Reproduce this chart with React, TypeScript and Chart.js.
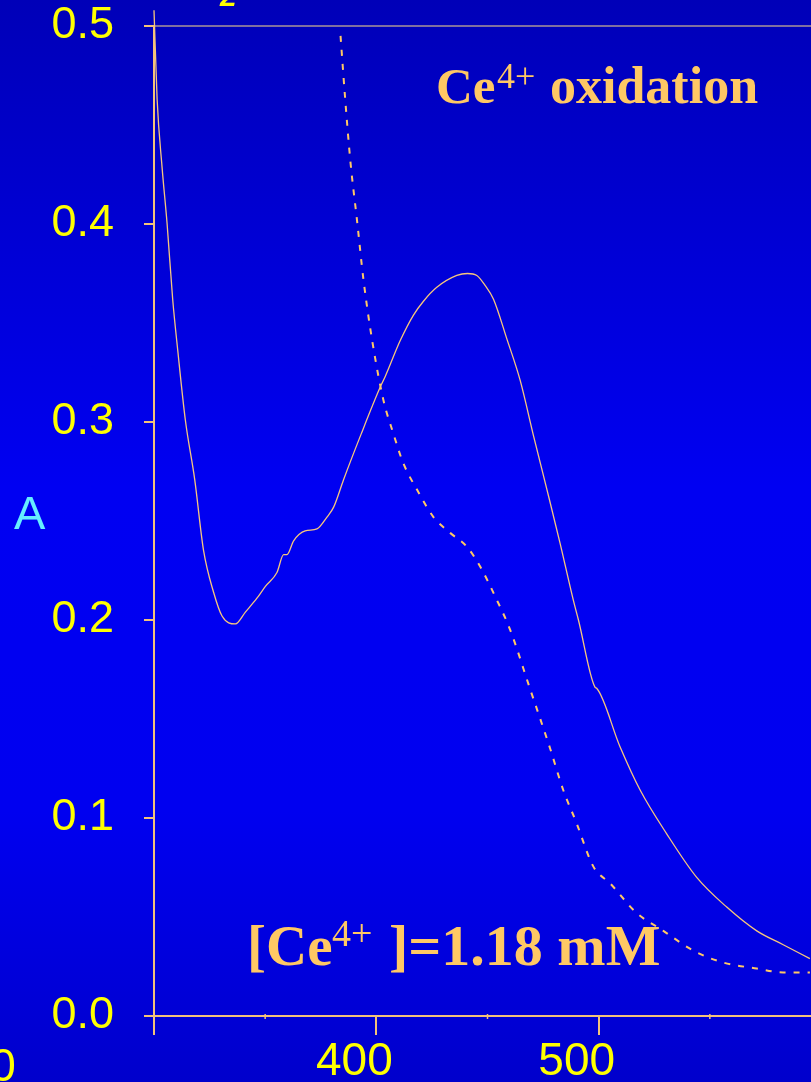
import React, { useEffect, useRef } from 'react';
import { Chart, registerables } from 'chart.js';

Chart.register(...registerables);

// ---- data ----
const solidWl = [300, 301.4, 303.6, 305.9, 308.4, 310.7, 314.1, 318.3, 322.3, 326.8, 330.6, 336.6, 341.1, 346.3, 350.1, 355.3, 358.3, 359.8, 362.8, 368.0, 373.3, 377.8, 380.8, 385.3, 393.2, 401.9, 404.0, 410.7, 416.7, 421.2, 427.2, 436.2, 441.0, 445.2, 448.9, 452.7, 458.7, 464.7, 470.7, 476.7, 482.6, 488.6, 490.9, 498.4, 499.1, 509.6, 518.7, 530.6, 544.1, 557.6, 571.1, 583.0, 595.0];
const solidA = [0.508, 0.463, 0.429, 0.400, 0.362, 0.336, 0.301, 0.271, 0.235, 0.214, 0.202, 0.198, 0.204, 0.211, 0.217, 0.224, 0.233, 0.233, 0.240, 0.245, 0.246, 0.252, 0.257, 0.271, 0.294, 0.318, 0.323, 0.341, 0.354, 0.361, 0.368, 0.374, 0.375, 0.374, 0.369, 0.362, 0.342, 0.321, 0.293, 0.266, 0.239, 0.210, 0.200, 0.166, 0.1655, 0.136, 0.114, 0.092, 0.070, 0.055, 0.043, 0.036, 0.029];

const dashedWl = [383.9, 386.0, 388.3, 391.3, 394.2, 398.3, 403.2, 407.7, 412.2, 418.2, 425.7, 433.2, 440.7, 446.7, 453.4, 460.2, 469.2, 478.2, 484.1, 490.2, 496.1, 498.4, 505.1, 517.1, 529.1, 542.6, 556.0, 571.1, 583.0, 595.0];
const dashedA = [0.495, 0.463, 0.432, 0.402, 0.372, 0.340, 0.311, 0.294, 0.279, 0.266, 0.252, 0.244, 0.237, 0.227, 0.212, 0.195, 0.165, 0.135, 0.114, 0.097, 0.079, 0.074, 0.067, 0.052, 0.043, 0.033, 0.027, 0.024, 0.022, 0.022];

const xMin = 300;
const xMax = 595.5;
const xMajorTicks = [300, 400, 500];
const xMinorTicks = [350, 450, 550];
const yMin = 0;
const yMax = 0.5;
const yTicks = [0, 0.1, 0.2, 0.3, 0.4, 0.5];
const hiddenXLabels = [300];

const yAxisLabel = 'A';
const strayXLabel = '0';
const titleMain = 'Ce';
const titleSup = '4+';
const titleRest = 'oxidation';
const concPre = '[Ce';
const concSup = '4+';
const concRest = ']=1.18 mM';

const GOLD = '#ffc864';
const AXIS = '#f2c27a';
const YELLOW = '#ffff00';
const SANS = "'Liberation Sans', Arial, sans-serif";
const SERIF = "'Liberation Serif', 'Times New Roman', serif";

const decorPlugin = {
  id: 'decor',
  beforeDraw(chart: any) {
    const { ctx, width, height } = chart;
    const g = ctx.createLinearGradient(0, 0, 0, height);
    g.addColorStop(0, '#0000b8');
    g.addColorStop(0.45, '#0000f2');
    g.addColorStop(0.75, '#0000f0');
    g.addColorStop(1, '#0000cc');
    ctx.save();
    ctx.fillStyle = g;
    ctx.fillRect(0, 0, width, height);
    ctx.restore();
  },
  afterDraw(chart: any) {
    const { ctx } = chart;
    const xs = chart.scales.x;
    ctx.save();
    // minor x ticks
    ctx.strokeStyle = AXIS;
    ctx.lineWidth = 1.5;
    xMinorTicks.forEach((v) => {
      const px = xs.getPixelForValue(v);
      ctx.beginPath();
      ctx.moveTo(px, xs.top - 2);
      ctx.lineTo(px, xs.top + 3);
      ctx.stroke();
    });
    // y axis label (upright)
    ctx.fillStyle = '#66eeff';
    ctx.font = `47px ${SANS}`;
    ctx.textAlign = 'left';
    ctx.textBaseline = 'alphabetic';
    ctx.fillText(yAxisLabel, 14, 529);
    // stray cropped x label
    ctx.fillStyle = YELLOW;
    ctx.font = `46px ${SANS}`;
    ctx.textAlign = 'center';
    ctx.fillText(strayXLabel, 3, 1081);
    // cropped title remnant
    ctx.font = `italic bold 30px ${SANS}`;
    ctx.textAlign = 'left';
    ctx.fillText('2', 220, 6);
    // annotation texts
    ctx.fillStyle = GOLD;
    ctx.textAlign = 'left';
    ctx.font = `bold 51px ${SERIF}`;
    ctx.fillText(titleMain, 436, 103);
    ctx.font = `36px ${SERIF}`;
    ctx.fillText(titleSup, 497, 88);
    ctx.font = `bold 52px ${SERIF}`;
    ctx.fillText(titleRest, 550, 103);

    ctx.font = `bold 57px ${SERIF}`;
    ctx.fillText(concPre, 247, 965);
    ctx.font = `38px ${SERIF}`;
    ctx.fillText(concSup, 332, 946);
    ctx.font = `bold 58px ${SERIF}`;
    ctx.fillText(concRest, 389, 965);
    ctx.restore();
  },
};

export default function App() {
  const ref = useRef<HTMLCanvasElement | null>(null);

  useEffect(() => {
    if (!ref.current) return;
    const solid = solidWl.map((x, i) => ({ x, y: solidA[i] }));
    const dashed = dashedWl.map((x, i) => ({ x, y: dashedA[i] }));
    const chart = new Chart(ref.current, {
      type: 'line',
      data: {
        datasets: [
          {
            data: solid,
            borderColor: '#f6c67c',
            borderWidth: 1.3,
            pointRadius: 0,
            cubicInterpolationMode: 'monotone',
            clip: false as any,
            fill: false,
          },
          {
            data: dashed,
            borderColor: GOLD,
            borderWidth: 2,
            borderDash: [6, 8],
            pointRadius: 0,
            cubicInterpolationMode: 'monotone',
            clip: false as any,
            fill: false,
          },
        ],
      },
      options: {
        animation: false,
        responsive: false,
        events: [],
        layout: { padding: { top: 26, right: 0, bottom: 0, left: 0 } },
        plugins: { legend: { display: false }, tooltip: { enabled: false }, title: { display: false } },
        scales: {
          x: {
            type: 'linear',
            min: xMin,
            max: xMax,
            border: { display: true, color: AXIS, width: 2 },
            grid: {
              drawOnChartArea: false,
              drawTicks: true,
              tickLength: 19,
              color: AXIS,
              tickColor: AXIS,
              lineWidth: 2,
            },
            ticks: {
              autoSkip: false,
              maxRotation: 0,
              color: YELLOW,
              font: { family: SANS, size: 46 },
              padding: 0,
              labelOffset: -22,
              callback: (v: any) => (hiddenXLabels.includes(Number(v)) ? '' : String(v)),
            },
            afterBuildTicks: (s: any) => {
              s.ticks = xMajorTicks.map((v) => ({ value: v }));
            },
            afterFit: (s: any) => {
              s.height = 66;
              s.paddingLeft = 0;
              s.paddingRight = 0;
            },
          },
          y: {
            type: 'linear',
            min: yMin,
            max: yMax,
            border: { display: true, color: AXIS, width: 2 },
            grid: {
              drawOnChartArea: true,
              drawTicks: true,
              tickLength: 10,
              lineWidth: 2,
              color: (c: any) => (c.tick && Math.abs(c.tick.value - yMax) < 1e-9 ? '#8070a0' : 'rgba(0,0,0,0)'),
              tickColor: AXIS,
            },
            ticks: {
              color: YELLOW,
              font: { family: SANS, size: 45 },
              padding: 30,
              callback: (v: any) => Number(v).toFixed(1),
            },
            afterBuildTicks: (s: any) => {
              s.ticks = yTicks.map((v) => ({ value: v }));
            },
            afterFit: (s: any) => {
              s.width = 154;
              s.paddingTop = 0;
              s.paddingBottom = 0;
            },
          },
        },
      },
      plugins: [decorPlugin],
    });
    return () => chart.destroy();
  }, []);

  return (
    <div style={{ position: 'fixed', left: 0, top: 0, width: 811, height: 1082, margin: 0 }}>
      <canvas ref={ref} width={811} height={1082} style={{ display: 'block', width: 811, height: 1082 }} />
    </div>
  );
}
